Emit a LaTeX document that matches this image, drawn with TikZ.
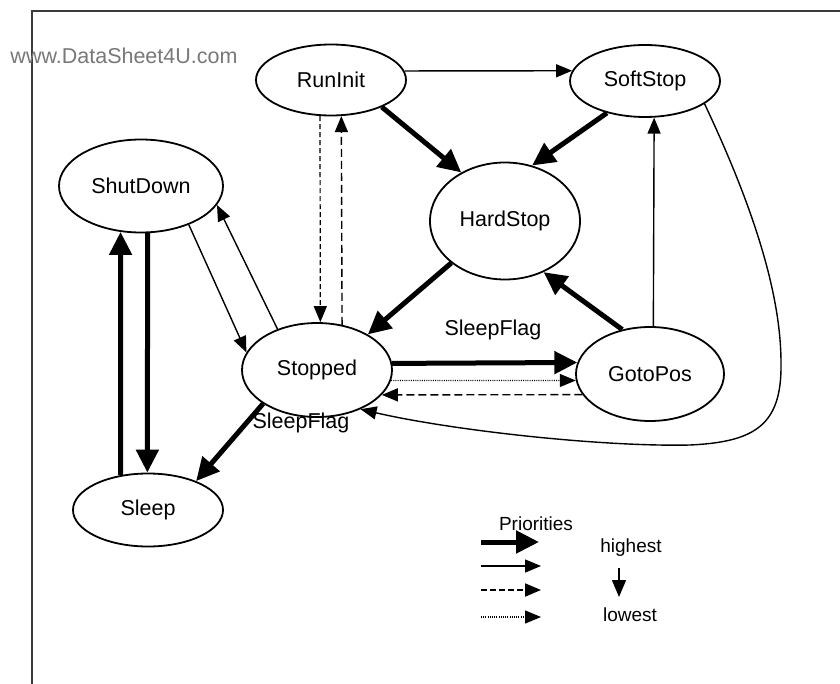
\documentclass[tikz,border=0pt]{standalone}
\usepackage{fontspec}
\setmainfont{Liberation Sans}
\usetikzlibrary{arrows.meta,shapes.geometric}
\definecolor{wmgray}{RGB}{120,120,120}
\definecolor{framegray}{RGB}{60,60,60}
\begin{document}
\begin{tikzpicture}[x=1pt,y=-1pt,
  state/.style={draw,ellipse,line width=1.8pt,inner sep=0pt,font=\fontsize{21.5}{26}\selectfont},
  lbl/.style={font=\fontsize{21.5}{26}\selectfont,inner sep=0pt},
  leg/.style={font=\fontsize{19}{23}\selectfont,inner sep=0pt},
  bigtip/.style={-{Triangle[length=23pt,width=22pt]}},
  smalltip/.style={-{Triangle[length=16pt,width=13pt]}},
  prio1/.style={line width=5pt,bigtip},
  prio2/.style={line width=1.4pt,smalltip},
  prio3/.style={line width=1.4pt,dash pattern=on 8pt off 4pt,smalltip},
  prio3s/.style={line width=1.2pt,dash pattern=on 5pt off 3pt,smalltip},
  prio4/.style={line width=1.2pt,dash pattern=on 1pt off 1.2pt,smalltip}
]
\useasboundingbox (0,0) rectangle (840,684);
% frame
\draw[framegray,line width=1.2pt] (32,684) -- (32,11) -- (840,11);
\node[wmgray,font=\fontsize{21.5}{26}\selectfont,inner sep=0pt] (wm) at (124,56) {www.DataSheet4U.com};

% states
\node[state,minimum width=150pt,minimum height=71pt] (runinit) at (331,80) {RunInit};
\node[state,minimum width=150pt,minimum height=72pt] (softstop) at (645,81) {SoftStop};
\node[state,minimum width=150pt,minimum height=117pt] (hardstop) at (505,221) {HardStop};
\node[state,minimum width=164pt,minimum height=93pt] (shutdown) at (141,186) {ShutDown};
\node[state,minimum width=150pt,minimum height=94pt] (stopped) at (317,370) {Stopped};
\node[state,minimum width=148pt,minimum height=94pt] (gotopos) at (650,374) {GotoPos};
\node[state,minimum width=150pt,minimum height=73pt] (sleep) at (148,510) {Sleep};

% labels
\node[lbl] (sf1) at (493,330) {SleepFlag};
\node[lbl] (sf2) at (301,423) {SleepFlag};

% transitions
\draw[prio2] (runinit.7.1) -- (softstop.172.1);
\draw[prio1] (runinit.-28.3) -- (hardstop.132.8);
\draw[prio1] (softstop.220.1) -- (hardstop.64.7);
\draw[prio1] (hardstop.218.9) -- (stopped.35.5);
\draw[prio1] (gotopos.122.5) -- (hardstop.-53);
\draw[prio2] (gotopos.86.3) -- (softstop.-76);
\draw[prio2] (softstop.-21.6) .. controls (750,200) and (781,290) .. (781,363)
  .. controls (782,425) and (755,442) .. (690,445)
  .. controls (600,447) and (450,430) .. (stopped.-42.8);
\draw[prio1] (stopped.5.4) -- (gotopos.171.3);
\draw[prio4] (stopped.-8.6) -- (gotopos.185.5);
\draw[prio3] (gotopos.197.6) -- (stopped.-21.5);
\draw[prio2] (shutdown.-39.5) -- (stopped.166.2);
\draw[prio2] (stopped.134.3) -- (shutdown.-14);
\draw[prio1] (sleep.128) -- (shutdown.246.3);
\draw[prio1] (shutdown.-82.7) -- (sleep.91);
\draw[prio1] (stopped.212.5) -- (sleep.31.6);
\draw[prio3s] (runinit.-107.4) -- (stopped.86.3);
\draw[prio3] (stopped.61.7) -- (runinit.-74.1);

% legend
\node[leg] (prio) at (536,524) {Priorities};
\node[leg] (high) at (631,548) {highest};
\node[leg] (low) at (630,615) {lowest};
\coordinate (l1s) at (481,542); \coordinate (l1e) at (539,542);
\coordinate (l2s) at (481,566); \coordinate (l2e) at (541,566);
\coordinate (l3s) at (481,590); \coordinate (l3e) at (541,590);
\coordinate (l4s) at (481,617); \coordinate (l4e) at (541,617);
\draw[prio1] (l1s) -- (l1e);
\draw[prio2] (l2s) -- (l2e);
\draw[line width=1.8pt,dash pattern=on 6pt off 3pt,smalltip] (l3s) -- (l3e);
\draw[prio4] (l4s) -- (l4e);
\coordinate (da) at (619,568); \coordinate (db) at (619,597);
\draw[line width=1.4pt,-{Triangle[length=17pt,width=14pt]}] (da) -- (db);
\end{tikzpicture}
\end{document}
